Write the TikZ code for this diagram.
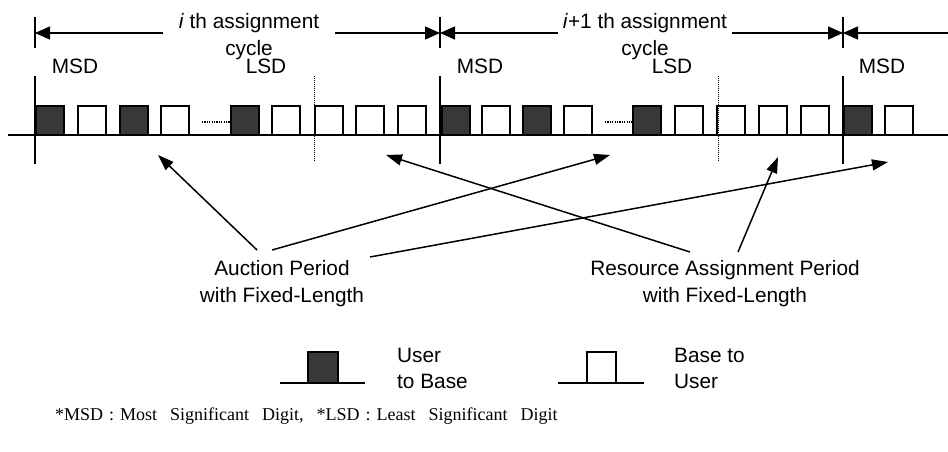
\documentclass[tikz,border=0pt]{standalone}
\usepackage{fontspec}
\setmainfont{Liberation Sans}
\newfontfamily\footfont{Liberation Serif}
\usetikzlibrary{arrows.meta}
\begin{document}
\begin{tikzpicture}[x=1pt,y=-1pt,
  slot/.style={draw, line width=1.4pt, minimum width=28pt, minimum height=29pt, anchor=south west, inner sep=0pt, outer sep=0pt},
  upbox/.style={slot, fill=white},
  dnbox/.style={slot, fill=black!78},
  lbl/.style={font=\fontsize{20.8}{27}\selectfont, inner sep=0pt, align=center, anchor=base},
  lbll/.style={font=\fontsize{20.8}{26}\selectfont, inner sep=0pt, align=left, anchor=base west},
  tickline/.style={line width=1.8pt},
  sepline/.style={line width=1pt, dash pattern=on 1pt off 1pt},
  dotline/.style={line width=1.3pt, dash pattern=on 1.2pt off 1.2pt},
  cyc/.style={line width=1.5pt, -{Triangle[length=15pt,width=13pt]}},
  ptr/.style={line width=1.5pt, -{Triangle[length=16pt,width=11pt]}},
]
\useasboundingbox (0,0) rectangle (948,451);

% time axis
\coordinate (axL) at (8,135);
\coordinate (axR) at (948,135);
\draw[line width=1.4pt] (axL) -- (axR);

% cycle boundaries
\coordinate (v1t) at (35,76);  \coordinate (v1b) at (35,164);
\coordinate (v2t) at (440,76); \coordinate (v2b) at (440,164);
\coordinate (v3t) at (843,76); \coordinate (v3b) at (843,164);
\draw[tickline] (v1t) -- (v1b);
\draw[tickline] (v2t) -- (v2b);
\draw[tickline] (v3t) -- (v3b);

% slots, cycle i
\node[dnbox] (b1) at (36,135) {};
\node[upbox] (b2) at (78,135) {};
\node[dnbox] (b3) at (120,135) {};
\node[upbox] (b4) at (161,135) {};
\node[dnbox] (b5) at (231,135) {};
\node[upbox] (b6) at (272,135) {};
\node[upbox] (b7) at (315,135) {};
\node[upbox] (b8) at (356,135) {};
\node[upbox] (b9) at (398,135) {};
% slots, cycle i+1
\node[dnbox] (c1) at (442,135) {};
\node[upbox] (c2) at (482,135) {};
\node[dnbox] (c3) at (523,135) {};
\node[upbox] (c4) at (564,135) {};
\node[dnbox] (c5) at (633,135) {};
\node[upbox] (c6) at (675,135) {};
\node[upbox] (c7) at (717,135) {};
\node[upbox] (c8) at (759,135) {};
\node[upbox] (c9) at (801,135) {};
% slots, cycle i+2
\node[dnbox] (d1) at (844,135) {};
\node[upbox] (d2) at (885,135) {};

% ellipses
\draw[dotline] (b4.east |- 0,122) ++(13,0) coordinate (e1a) -- (b5.west |- 0,122) coordinate (e1b);
\draw[dotline] (c4.east |- 0,122) ++(13,0) coordinate (e2a) -- (c5.west |- 0,122) coordinate (e2b);

% auction / assignment separators
\coordinate (s1t) at (314,76); \coordinate (s1b) at (314,162);
\coordinate (s2t) at (718,76); \coordinate (s2b) at (718,162);
\draw[sepline] (s1t) -- (s1b);
\draw[sepline] (s2t) -- (s2b);

% digit labels
\node[lbl] (m1) at (75,73) {MSD};
\node[lbl] (l1) at (266,73) {LSD};
\node[lbl] (m2) at (480,73) {MSD};
\node[lbl] (l2) at (672,73) {LSD};
\node[lbl] (m3) at (882,73) {MSD};

% cycle dimension lines
\coordinate (t1t) at (35,17);  \coordinate (t1b) at (35,48);
\coordinate (t2t) at (440,17); \coordinate (t2b) at (440,48);
\coordinate (t3t) at (843,17); \coordinate (t3b) at (843,48);
\draw[tickline] (t1t) -- (t1b);
\draw[tickline] (t2t) -- (t2b);
\draw[tickline] (t3t) -- (t3b);
\coordinate (t1) at (35,33); \coordinate (t2) at (440,33); \coordinate (t3) at (843,33);
\coordinate (f1) at (163,33); \coordinate (f2) at (335,33);
\coordinate (f3) at (558,33); \coordinate (f4) at (732,33);
\coordinate (f5) at (948,33);
\draw[cyc] (f1) -- (t1);
\draw[cyc] (f2) -- (t2);
\draw[cyc] (f3) -- (t2);
\draw[cyc] (f4) -- (t3);
\draw[cyc] (f5) -- (t3);
\node[lbl] (cyc1) at (249,55) {\textit{i} th assignment\\cycle};
\node[lbl] (cyc2) at (645,55) {\textit{i}+1 th assignment\\cycle};

% period labels
\node[lbl] (auc) at (282,302) {Auction Period\\with Fixed-Length};
\node[lbl] (res) at (725,302) {Resource Assignment Period\\with Fixed-Length};

\coordinate (p1s) at (257,250); \coordinate (p1e) at (158,155);
\coordinate (p2s) at (272,250); \coordinate (p2e) at (610,155);
\coordinate (p3s) at (370,257); \coordinate (p3e) at (888,162);
\coordinate (p4s) at (690,252); \coordinate (p4e) at (386,155);
\coordinate (p5s) at (738,252); \coordinate (p5e) at (778,157);
\draw[ptr] (p1s) -- (p1e);
\draw[ptr] (p2s) -- (p2e);
\draw[ptr] (p3s) -- (p3e);
\draw[ptr] (p4s) -- (p4e);
\draw[ptr] (p5s) -- (p5e);

% legend
\coordinate (g1a) at (280,383); \coordinate (g1b) at (365,383);
\draw[line width=1.4pt] (g1a) -- (g1b);
\node[slot, fill=black!78, minimum width=30pt, minimum height=31pt] (gdn) at (308,383) {};
\node[lbll] (gdnt) at (397,388) {User\\to Base};
\coordinate (g2a) at (558,383); \coordinate (g2b) at (644,383);
\draw[line width=1.4pt] (g2a) -- (g2b);
\node[slot, fill=white, minimum width=29pt, minimum height=31pt] (gup) at (587,383) {};
\node[lbll] (gupt) at (674,388) {Base to\\User};

% footnote
\node[anchor=base west, inner sep=0pt, font=\footfont\fontsize{18}{22}\selectfont] (foot) at (55,420)
  {*MSD\hspace{6pt}:\hspace{6pt}Most\hspace{13pt}Significant\hspace{13pt}Digit,\hspace{13pt}*LSD\hspace{6pt}:\hspace{6pt}Least\hspace{13pt}Significant\hspace{13pt}Digit};
\end{tikzpicture}
\end{document}
